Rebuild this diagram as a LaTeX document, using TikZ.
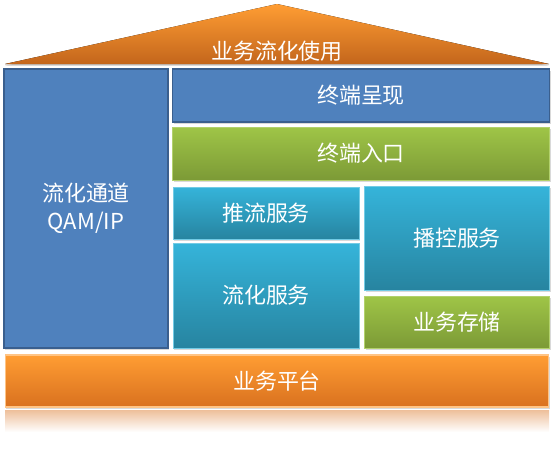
\documentclass[tikz,border=0pt]{standalone}
\usepackage{fontspec}
\usepackage{tikz}
\usetikzlibrary{shadows}
\newfontfamily\cjk{Noto Sans CJK SC}
\definecolor{boxblue}{HTML}{4F81BD}
\definecolor{boxblueline}{HTML}{3A5F8E}
\definecolor{greentop}{HTML}{9FC547}
\definecolor{greenbot}{HTML}{7C9A36}
\definecolor{aquatop}{HTML}{35B4DA}
\definecolor{aquabot}{HTML}{2784A0}
\definecolor{orangetop}{HTML}{FF9D33}
\definecolor{orangebot}{HTML}{D9711F}

\begin{document}
\begin{tikzpicture}[x=0.02cm, y=-0.02cm,
		lbl/.style = {text=white, font=\cjk\fontsize{12.5}{16}\selectfont, align=center, inner sep=0},
		shd/.style = {drop shadow={shadow xshift=0.6pt, shadow yshift=-0.9pt, opacity=0.3}},
		blu/.style = {rectangle, lbl, fill=boxblue, draw=boxblueline, line width=0.8pt, shd},
		grn/.style = {rectangle, lbl, top color=greentop, bottom color=greenbot, draw=greentop!80!white, line width=0.4pt, shd},
		aqu/.style = {rectangle, lbl, top color=aquatop, bottom color=aquabot, draw=aquatop!70!white, line width=0.4pt, shd},
		org/.style = {rectangle, lbl, top color=orangetop, bottom color=orangebot, draw=orangetop!60!white, line width=0.6pt, shd}
		]
		\useasboundingbox (0,0) rectangle (554,467);
		
		%Roof
		\coordinate (roofl)	at	(5, 64);
		\coordinate (roofr)	at	(549, 64);
		\coordinate (apex)	at	(277, 4);
		\fill[top color=orangetop, bottom color=orangebot!90!black, drop shadow={shadow xshift=0pt, shadow yshift=-1pt, opacity=0.3}]
			(roofl) -- (apex) -- (roofr) -- cycle;
		\node[lbl]	(use)	at	(277, 51)	{业务流化使用};
		
		%Nodes
		\node[blu, minimum width=3.28cm, minimum height=5.58cm]	(chan)	at	(86, 208.5)		{流化通道\\QAM/IP};
		\node[blu, minimum width=7.54cm, minimum height=1.06cm]	(show)	at	(361, 95.5)		{终端呈现};
		\node[grn, minimum width=7.54cm, minimum height=1.06cm]	(entry)	at	(361, 153.5)	{终端入口};
		\node[aqu, minimum width=3.72cm, minimum height=1.04cm]	(push)	at	(266, 213)		{推流服务};
		\node[aqu, minimum width=3.72cm, minimum height=2.10cm]	(flow)	at	(266, 295.5)	{流化服务};
		\node[aqu, minimum width=3.70cm, minimum height=2.08cm]	(ctrl)	at	(457, 238)		{播控服务};
		\node[grn, minimum width=3.70cm, minimum height=1.04cm]	(store)	at	(457, 322)		{业务存储};
		\node[org, minimum width=10.88cm, minimum height=1.04cm]	(plat)	at	(277, 381)		{业务平台};
		
		%Reflection
		\fill[top color=orangebot!45!white, bottom color=white] (5, 410) rectangle (549, 432);
	\end{tikzpicture}
\end{document}
